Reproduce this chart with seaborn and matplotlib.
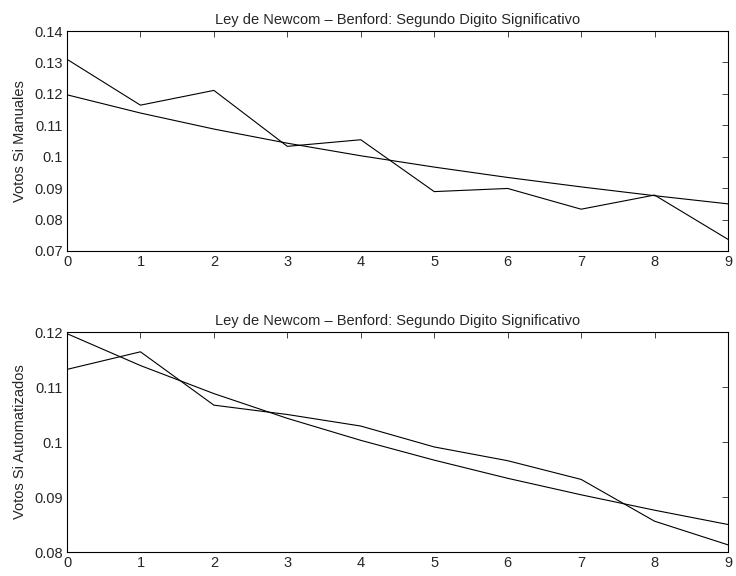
import numpy as np
import pandas as pd
import matplotlib
matplotlib.use("Agg")
import matplotlib.pyplot as plt
import seaborn as sns

sns.set_theme(style="white")
plt.rcParams['font.family'] = ['Liberation Sans', 'DejaVu Sans']
plt.rcParams['xtick.direction'] = 'in'
plt.rcParams['ytick.direction'] = 'in'

digitos = list(range(10))
# Ley de Benford, segundo digito
benford = [0.1197, 0.1139, 0.1088, 0.1043, 0.1003, 0.0967, 0.0934, 0.0904, 0.0876, 0.0850]
votos_manuales = [0.1310, 0.1164, 0.1211, 0.1033, 0.1054, 0.0889, 0.0899, 0.0833, 0.0878, 0.0737]
votos_automatizados = [0.1132, 0.1164, 0.1067, 0.1050, 0.1029, 0.0991, 0.0966, 0.0932, 0.0856, 0.0813]

titulo = "Ley de Newcom \u2013 Benford: Segundo Digito Significativo"

fig = plt.figure(figsize=(7.36, 5.76), dpi=100)
ax1 = fig.add_axes([67/736, 1 - 251/576, 661/736, 220/576])
ax2 = fig.add_axes([67/736, 1 - 552/576, 661/736, 220/576])

paneles = [
    (ax1, votos_manuales, "Votos Si Manuales", (0.07, 0.14), np.arange(0.07, 0.1401, 0.01)),
    (ax2, votos_automatizados, "Votos Si Automatizados", (0.08, 0.12), np.arange(0.08, 0.1201, 0.01)),
]

for ax, obs, etiqueta, ylim, yticks in paneles:
    df = pd.DataFrame({"digito": digitos, "obs": obs, "benford": benford})
    sns.lineplot(data=df, x="digito", y="obs", ax=ax, color="black", linewidth=0.8)
    sns.lineplot(data=df, x="digito", y="benford", ax=ax, color="black", linewidth=0.8)
    ax.set_xlim(0, 9)
    ax.set_ylim(*ylim)
    ax.set_xticks(digitos)
    ax.set_yticks(yticks)
    ax.set_yticklabels([f"{v:.2f}".rstrip("0") if f"{v:.2f}".endswith("0") else f"{v:.2f}" for v in yticks])
    ax.tick_params(axis="both", labelsize=10.5, length=4, width=0.6, top=True, right=True, pad=3)
    ax.set_xlabel("")
    ax.set_ylabel(etiqueta, fontsize=10.5, labelpad=5)
    ax.set_title(titulo, fontsize=10.5, pad=5)
    for s in ax.spines.values():
        s.set_color("black")
        s.set_linewidth(0.8)

fig.savefig("out.png", dpi=100)
